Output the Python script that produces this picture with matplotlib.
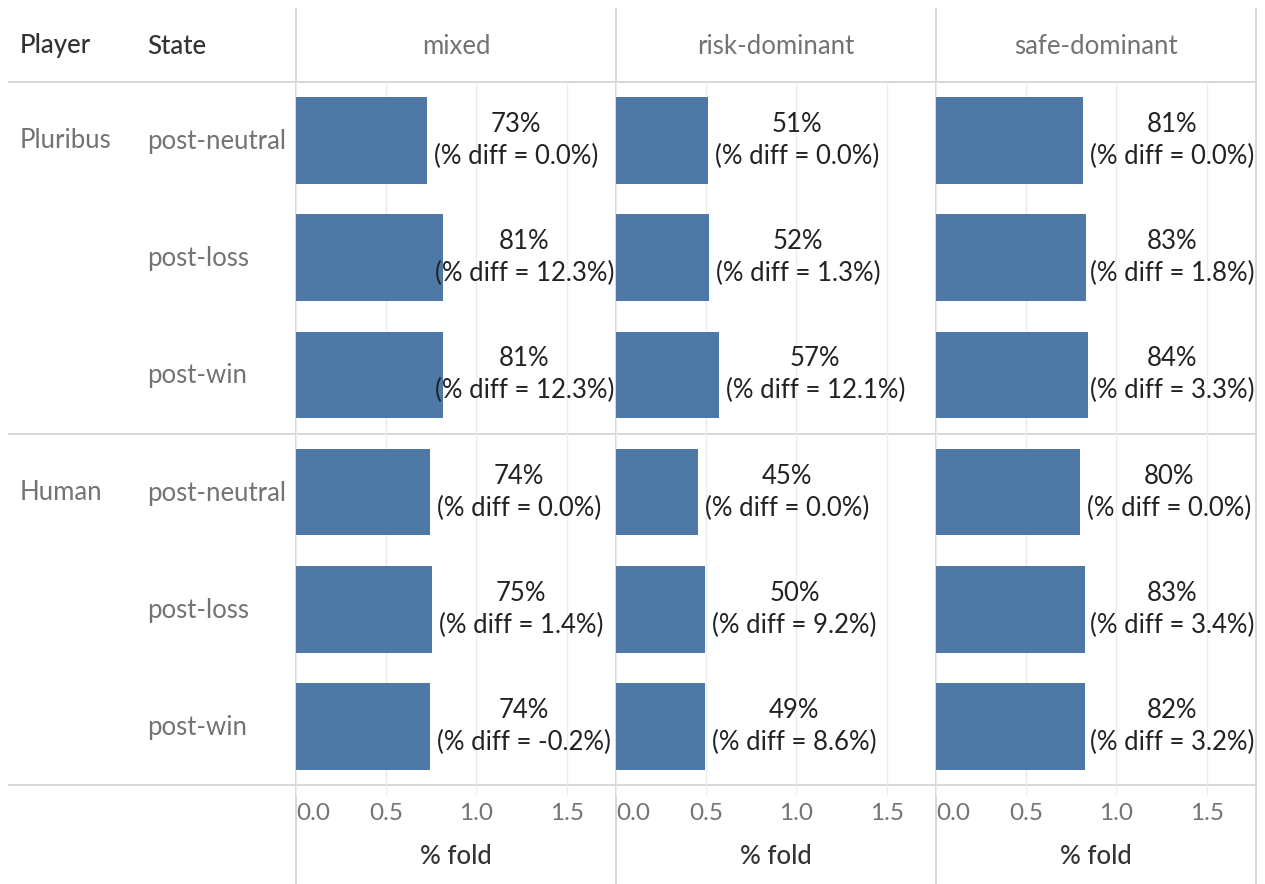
import matplotlib
matplotlib.use("Agg")
import matplotlib.pyplot as plt

plt.rcParams['font.family'] = ['Lato', 'DejaVu Sans']

# data
players = ["Pluribus", "Human"]
states = ["post-neutral", "post-loss", "post-win"]
games = ["mixed", "risk-dominant", "safe-dominant"]

mixed_fold = [0.726, 0.814, 0.814, 0.743, 0.753, 0.742]
mixed_diff = [0.0, 12.3, 12.3, 0.0, 1.4, -0.2]
risk_fold = [0.508, 0.515, 0.569, 0.454, 0.496, 0.493]
risk_diff = [0.0, 1.3, 12.1, 0.0, 9.2, 8.6]
safe_fold = [0.813, 0.829, 0.840, 0.799, 0.826, 0.8245]
safe_diff = [0.0, 1.8, 3.3, 0.0, 3.4, 3.2]

ticks = [0.0, 0.5, 1.0, 1.5]
tick_labels = ["0.0", "0.5", "1.0", "1.5"]

folds = [mixed_fold, risk_fold, safe_fold]
diffs = [mixed_diff, risk_diff, safe_diff]

W, H = 1265, 884
BLUE = "#4e79a7"
LINE = "#d4d4d4"
GRID = "#ececec"
GRAY = "#737373"
FS = 18.5

fig = plt.figure(figsize=(W / 100, H / 100), dpi=100)

# overlay in pixel coordinates for table lines and headers
ov = fig.add_axes([0, 0, 1, 1])
ov.set_xlim(0, W)
ov.set_ylim(H, 0)
ov.axis("off")

pane_left = [296, 616, 936]
pane_w = 320
top, bottom = 82, 785
px_per_unit = 180.4
xmax = pane_w / px_per_unit
row_h = (bottom - top) / 6

ov.hlines([top, top + 3 * row_h, bottom], 8, 1256, color=LINE, lw=1.3)
ov.vlines(pane_left + [1256], 8, H, color=LINE, lw=1.3)

ov.text(20, 46, "Player", fontsize=FS, color="#333333", va="center", ha="left", fontweight="medium")
ov.text(147, 46, "State", fontsize=FS, color="#333333", va="center", ha="left", fontweight="medium")
for g, x0 in zip(games, pane_left):
    ov.text(x0 + pane_w / 2, 46, g, fontsize=FS, color=GRAY, va="center", ha="center")

for i, p in enumerate(players):
    ov.text(20, top + (3 * i + 0.5) * row_h, p, fontsize=FS, color=GRAY, va="center", ha="left")
    for j, s in enumerate(states):
        ov.text(147, top + (3 * i + j + 0.5) * row_h + 1, s, fontsize=FS, color=GRAY,
                va="center", ha="left")

labels = []
for k, x0 in enumerate(pane_left):
    ax = fig.add_axes([x0 / W, (H - bottom) / H, pane_w / W, (bottom - top) / H])
    ax.patch.set_alpha(0)
    y = list(range(6))
    ax.barh(y, folds[k], height=0.74, color=BLUE, zorder=2)
    ax.set_xlim(0, xmax)
    ax.set_ylim(5.5, -0.5)
    ax.set_yticks([])
    for sp in ax.spines.values():
        sp.set_visible(False)
    ax.set_xticks(ticks)
    ax.set_xticklabels(tick_labels)
    ax.grid(axis="x", color=GRID, lw=1, zorder=0)
    ax.set_axisbelow(True)
    ax.tick_params(axis="x", length=7, color=GRID, labelsize=17.5, labelcolor=GRAY, pad=6)
    ax.get_xticklabels()[0].set_ha("left")
    ax.set_xlabel("% fold", fontsize=FS, color="#333333", labelpad=14, fontweight="medium")
    for yi, (v, d) in enumerate(zip(folds[k], diffs[k])):
        t = ax.text(v + 7 / px_per_unit, yi, f"{v:.0%}\n(% diff = {d:.1f}%)", fontsize=FS,
                    color="#222222", ha="left", va="center", multialignment="center",
                    linespacing=1.35, zorder=3)
        labels.append((t, ax))

# Tableau pushes labels back inside the pane when they would overflow
fig.canvas.draw()
r = fig.canvas.get_renderer()
for t, ax in labels:
    bb = t.get_window_extent(r)
    abb = ax.get_window_extent(r)
    if bb.x1 > abb.x1 - 2:
        t.set_ha("right")
        t.set_x(xmax - 2 / px_per_unit)

fig.savefig("out.png", dpi=100)
